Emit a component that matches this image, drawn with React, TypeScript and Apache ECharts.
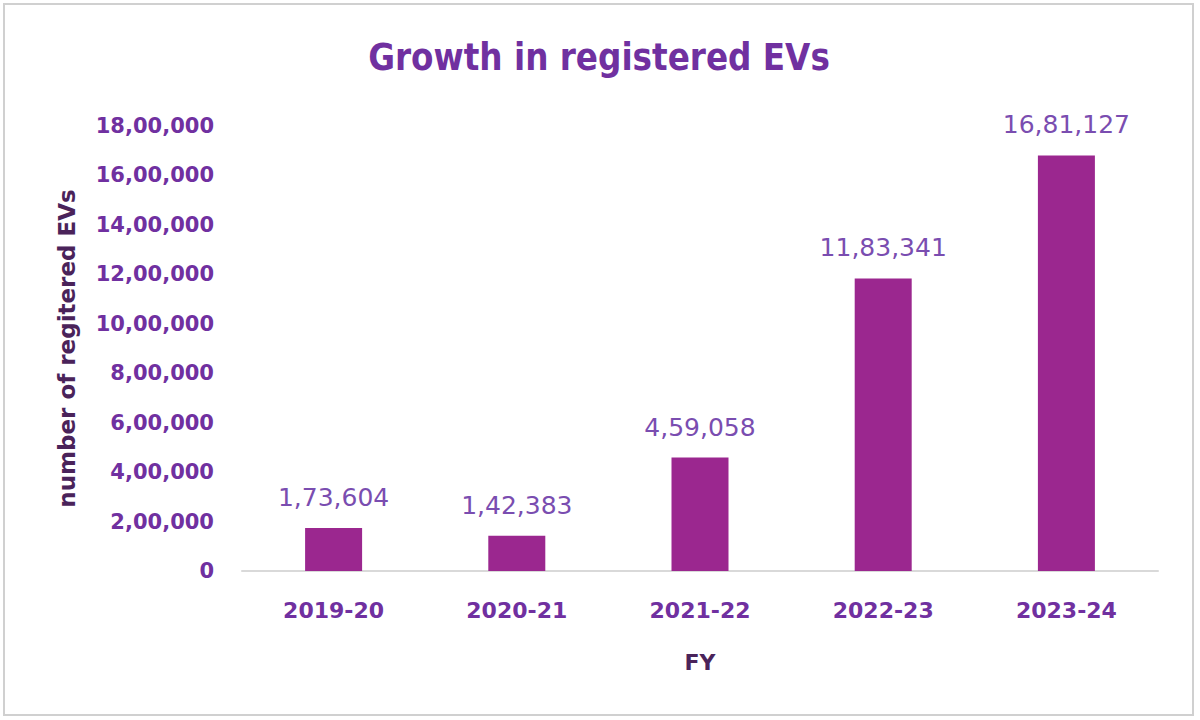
import React, { useEffect, useRef } from "react";
import * as echarts from "echarts";

const categories = ["2019-20", "2020-21", "2021-22", "2022-23", "2023-24"];
const registeredEVs = [173604, 142383, 459058, 1183341, 1681127];
const yTickValues = [0, 200000, 400000, 600000, 800000, 1000000, 1200000, 1400000, 1600000, 1800000];
const titleText = "Growth in registered EVs";

function indianFormat(n: number): string {
  const s = String(Math.round(n));
  if (s.length <= 3) return s;
  const last3 = s.slice(-3);
  let rest = s.slice(0, -3);
  const parts: string[] = [];
  while (rest.length > 2) {
    parts.unshift(rest.slice(-2));
    rest = rest.slice(0, -2);
  }
  if (rest.length) parts.unshift(rest);
  return parts.join(",") + "," + last3;
}

export default function App() {
  const ref = useRef<HTMLDivElement>(null);
  useEffect(() => {
    if (!ref.current) return;
    const titleFont = "bold 37px 'DejaVu Sans'";
    let titleWidth = 580;
    try {
      const c = document.createElement("canvas").getContext("2d");
      if (c) {
        c.font = titleFont;
        titleWidth = c.measureText(titleText).width || titleWidth;
      }
    } catch (e) {}
    const scaleX = 462 / titleWidth;
    const chart = echarts.init(ref.current, undefined, { renderer: "svg" });
    chart.setOption({
      animation: false,
      backgroundColor: "#ffffff",
      graphic: [
        {
          type: "rect",
          shape: { x: 4, y: 4, width: 1189, height: 711 },
          style: { fill: "none", stroke: "#D0D0D0", lineWidth: 2 },
          silent: true,
        },
        {
          type: "text",
          x: 599,
          y: 57,
          scaleX: scaleX,
          style: {
            text: titleText,
            font: titleFont,
            fill: "#7030A0",
            align: "center",
            verticalAlign: "middle",
          },
          silent: true,
        },
      ],
      grid: { left: 242, right: 42, top: 126, bottom: 149 },
      xAxis: {
        type: "category",
        data: categories,
        name: "FY",
        nameLocation: "middle",
        nameGap: 80,
        nameTextStyle: {
          fontFamily: "DejaVu Sans",
          fontWeight: "bold",
          fontSize: 22,
          color: "#4A235A",
        },
        axisLine: { lineStyle: { color: "#D9D9D9", width: 2 } },
        axisTick: { show: false },
        axisLabel: {
          margin: 28,
          fontFamily: "DejaVu Sans",
          fontWeight: "bold",
          fontSize: 22,
          color: "#7030A0",
        },
      },
      yAxis: {
        type: "value",
        min: yTickValues[0],
        max: yTickValues[yTickValues.length - 1],
        interval: yTickValues[1] - yTickValues[0],
        name: "number of regitered EVs",
        nameLocation: "middle",
        nameRotate: 90,
        nameGap: 164,
        nameTextStyle: {
          fontFamily: "DejaVu Sans",
          fontWeight: "bold",
          fontSize: 23,
          color: "#4A235A",
        },
        splitLine: { show: false },
        axisLine: { show: false },
        axisTick: { show: false },
        axisLabel: {
          margin: 28,
          fontFamily: "DejaVu Sans",
          fontWeight: "bold",
          fontSize: 21,
          color: "#7030A0",
          formatter: (v: number) => indianFormat(v),
        },
      },
      series: [
        {
          type: "bar",
          data: registeredEVs,
          barWidth: 57,
          itemStyle: { color: "#9B278F" },
          label: {
            show: true,
            position: "top",
            distance: 18,
            fontFamily: "DejaVu Sans",
            fontSize: 25,
            color: "#7A4DB0",
            formatter: (p: any) => indianFormat(p.value),
          },
        },
      ],
    });
    return () => chart.dispose();
  }, []);
  return <div ref={ref} style={{ width: 1200, height: 720, position: "absolute", left: 0, top: 0 }} />;
}
